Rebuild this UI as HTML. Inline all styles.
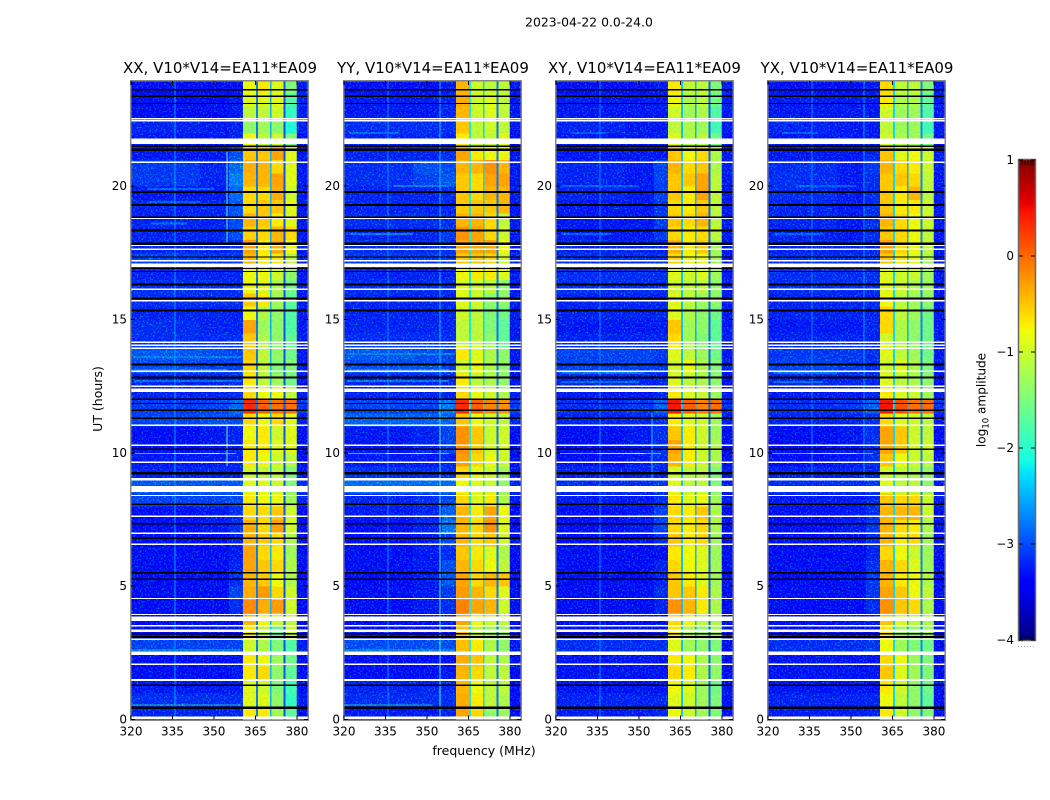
<!DOCTYPE html>
<html lang="en">
<head>
<meta charset="utf-8">
<title>2023-04-22 0.0-24.0</title>
<style>
html,body{margin:0;padding:0;background:#fff;}
#figure{display:block;width:1050px;height:800px;background:#fff;}
text{font-family:"DejaVu Sans","Liberation Sans",sans-serif;fill:#000;}
</style>
</head>
<body>
<svg id="figure" xmlns="http://www.w3.org/2000/svg" width="1050" height="800" viewBox="0 0 1050 800">
  <defs>
    <filter id="speckle" x="0" y="0" width="100%" height="100%" color-interpolation-filters="sRGB">
      <feTurbulence type="fractalNoise" baseFrequency="0.62" numOctaves="1" seed="7"/>
      <feColorMatrix type="matrix" values="0 0 0 0 0  3.2 0 0 0 -1.6  0 3 0 0 -0.4  0 0 0 0 1"/>
    </filter>
    <filter id="speckle-band" x="0" y="0" width="100%" height="100%" color-interpolation-filters="sRGB">
      <feTurbulence type="fractalNoise" baseFrequency="0.5" numOctaves="1" seed="3"/>
      <feColorMatrix type="matrix" values="0 0 0 0 1  4 0 0 0 -1.3  0 0 0 0 0  0 0 0 0 1"/>
    </filter>
  </defs>
  <text x="589" y="26.5" font-size="12.4" text-anchor="middle">2023-04-22 0.0-24.0</text>
  <text x="484" y="755" font-size="12.5" text-anchor="middle">frequency (MHz)</text>
  <text transform="translate(102,399) rotate(-90)" font-size="12.5" text-anchor="middle">UT (hours)</text>
  <text transform="translate(985.5,400) rotate(-90)" font-size="12.1" text-anchor="middle">log<tspan font-size="8.5" dy="3">10</tspan><tspan dy="-3"> amplitude</tspan></text>
  <text x="220" y="73" font-size="15" text-anchor="middle">XX, V10*V14=EA11*EA09</text>
  <text x="433" y="73" font-size="15" text-anchor="middle">YY, V10*V14=EA11*EA09</text>
  <text x="644.5" y="73" font-size="15" text-anchor="middle">XY, V10*V14=EA11*EA09</text>
  <text x="857" y="73" font-size="15" text-anchor="middle">YX, V10*V14=EA11*EA09</text>
  <g id="panels"></g>
  <g id="colorbar"></g>
</svg>
<script>
// ---- axis tick labels ----
const freqTicks = [320, 335, 350, 365, 380];
const hourTicks = [0, 5, 10, 15, 20];
const colorTicks = [1, 0, -1, -2, -3, -4];

// ---- channel edges in MHz: 3 background groups, 4 bands separated by 3 gaps, upper edge ----
const channelEdges = [320, 345, 355.5, 360.5, 365.2, 365.9, 370.3, 370.8, 375.2, 375.9, 380, 384];
const rowStepHours = 0.5;
const bandLevelOffset = -0.12;
const quietLevelOffset = -0.15;

// ---- log10 amplitude, one row per half hour from 0 UT, columns: low, mid, high, band1..band4, edge ----
const xxRows = [
[-3.0,-3.0,-3.0,-.6,-.6,-1.2,-1.6,-3.2],[-2.9,-2.9,-2.9,-.8,-.8,-1.3,-1.9,-3.1],[-3.1,-3.1,-3.1,-.8,-.9,-1.4,-1.8,-3.2],[-3.2,-3.2,-3.1,-.6,-.5,-1.3,-1.6,-3.2],
[-3.2,-3.2,-3.2,-.6,-.7,-1.2,-1.5,-3.2],[-2.7,-2.7,-2.7,-.9,-1.1,-1.4,-1.7,-3.1],[-3.2,-3.2,-3.2,-.6,-1.0,-1.5,-.9,-3.2],[-3.2,-3.2,-3.2,-.3,-.7,-.9,-1.0,-3.2],
[-3.2,-3.2,-2.9,-.05,-.25,-.15,-.9,-3.2],[-3.2,-3.2,-2.7,-.25,-.15,-.5,-.9,-3.2],[-3.2,-3.2,-2.9,-.3,-.4,-.7,-1.1,-3.2],[-3.2,-3.2,-3.0,-.2,-.4,-.5,-1.1,-3.2],
[-3.2,-3.2,-3.1,-.2,-.5,-.6,-1.2,-3.2],[-3.2,-3.2,-3.0,-.3,-.4,-.5,-1.1,-3.2],[-3.2,-3.1,-2.9,-.25,-.5,-.2,-.9,-3.2],[-3.2,-3.1,-2.9,-.5,-.5,-.4,-.9,-3.2],
[-2.7,-2.7,-2.6,-.6,-.7,-.7,-1.2,-3.0],[-2.5,-2.5,-2.5,-.8,-.8,-.9,-1.4,-2.9],[-3.0,-3.0,-3.0,-.9,-1,-1.0,-1.4,-3.1],[-3.1,-3.1,-3.0,-.6,-.7,-.9,-1.0,-3.2],
[-3.2,-3.1,-3.0,-.6,-.6,-.8,-.8,-3.2],[-3.2,-3.1,-3.0,-.7,-.6,-.9,-.8,-3.2],[-2.7,-2.6,-2.6,-.5,-.7,-.5,-.8,-3.0],[-2.8,-2.7,-2.3,.5,.2,.1,.1,-2.8],
[-3.0,-3.0,-2.9,-.5,-.7,-.7,-1.0,-3.1],[-3.0,-3.0,-2.9,-.6,-1.0,-1.2,-1.5,-3.2],[-2.6,-2.7,-2.7,-.5,-1.0,-1.4,-1.4,-3.1],[-2.5,-2.6,-2.7,-.4,-1,-1.3,-1.5,-3.1],
[-2.9,-2.9,-2.9,-.4,-1.1,-1.3,-1.6,-3.1],[-2.9,-3.0,-3.0,-.2,-1.2,-1.3,-1.7,-3.1],[-3.0,-3.0,-3.0,-.7,-1.1,-1.3,-1.7,-3.1],[-2.9,-2.9,-2.9,-.4,-.6,-1.2,-1.6,-3.1],
[-2.9,-2.9,-2.9,-.7,-.8,-1.1,-1.5,-3.1],[-3.0,-3.0,-3.0,-.7,-.7,-.9,-1.3,-3.1],[-2.7,-2.8,-2.8,-.3,-.6,-.6,-1.0,-3.0],[-3.0,-3.0,-2.9,-.2,-.6,-.25,-.7,-3.1],
[-3.0,-3.0,-2.6,-.45,-.5,-.3,-.5,-3.1],[-3.0,-3.0,-2.6,-.3,-.4,-.6,-.8,-3.1],[-3.0,-3.0,-2.5,-.5,-.4,-.4,-.8,-3.1],[-3.1,-3.1,-2.3,-.5,-.5,-.25,-.9,-3.1],
[-2.8,-3.0,-2.1,-.3,-.3,-.2,-.8,-3.1],[-2.8,-3.0,-2.3,-.25,-.3,-.5,-.8,-3.1],[-3.1,-3.1,-2.6,-.4,-.4,-.2,-.8,-3.1],[-3.1,-3.1,-3.0,-.7,-1,-.9,-1.4,-3.2],
[-3.0,-3.1,-3.0,-1.3,-1.2,-1.3,-2.0,-3.1],[-3.2,-3.2,-3.1,-1.0,-1.0,-.9,-1.9,-3.1],[-3.2,-3.2,-3.1,-.8,-.8,-.8,-1.7,-3.0],[-3.3,-3.3,-3.2,-.7,-.6,-.8,-1.4,-3.1]
];
const yyRows = [
[-3.1,-3.1,-3.0,-.2,-.5,-1.3,-1.2,-3.2],[-2.9,-2.9,-2.9,-.25,-.6,-1.0,-1.1,-3.2],[-3.0,-3.0,-3.0,-.3,-.7,-1.0,-1.0,-3.2],[-3.2,-3.2,-3.1,-.3,-.5,-1,-1.0,-3.2],
[-3.2,-3.2,-3.2,-.25,-.4,-1.0,-1.1,-3.2],[-2.6,-2.6,-2.6,-.35,-.6,-1.1,-1.3,-3.1],[-3.2,-3.2,-3.2,-.4,-1.0,-1.2,-1.2,-3.2],[-3.2,-3.2,-3.1,-.2,-.7,-.9,-1.0,-3.2],
[-3.2,-3.1,-2.9,0,-.2,-.3,-.9,-3.2],[-3.2,-3.1,-2.8,-.15,-.3,-.5,-.8,-3.2],[-3.2,-3.1,-2.5,-.2,-.5,-.3,-.4,-3.2],[-3.2,-3.1,-2.6,-.3,-.5,-.7,-1.0,-3.2],
[-3.2,-3.1,-2.9,-.4,-.6,-.8,-1.1,-3.2],[-3.2,-3.1,-2.7,-.3,-.5,-.4,-.9,-3.2],[-3.2,-3.0,-2.2,-.3,-.5,-.1,-.8,-3.2],[-3.1,-3.0,-2.4,-.3,-.6,-.2,-.7,-3.2],
[-3.0,-2.9,-2.7,-.5,-.8,-.6,-1.1,-3.1],[-2.3,-2.3,-2.3,-.7,-.8,-.9,-1.3,-3.0],[-2.9,-2.9,-2.9,-.5,-.8,-.9,-1.2,-3.1],[-3.1,-3.1,-3.0,-.15,-.5,-.7,-.9,-3.2],
[-3.1,-3.0,-2.7,-.1,-.4,-.9,-.9,-3.2],[-3.1,-3.0,-2.7,-.1,-.4,-.9,-.9,-3.2],[-2.4,-2.4,-2.4,-.4,-.7,-.9,-1,-3.0],[-2.7,-2.7,-2.2,.5,.2,0,-.1,-2.8],
[-3.0,-3.0,-3.0,-.5,-.7,-.9,-1.1,-3.1],[-3.0,-3.0,-3.0,-.6,-1,-1.1,-1.3,-3.2],[-2.6,-2.6,-2.7,-.9,-.7,-1.1,-1.3,-3.1],[-2.5,-2.6,-2.7,-.6,-.8,-1.1,-1.3,-3.1],
[-2.9,-2.9,-2.9,-1,-1,-1.3,-1.6,-3.1],[-3.0,-3.0,-3.0,-1.0,-1.0,-1.4,-1.6,-3.1],[-3.0,-3.0,-3.0,-.9,-1.0,-1.4,-1.5,-3.1],[-3.0,-3.0,-3.0,-.8,-.9,-1.3,-1.3,-3.1],
[-2.9,-2.9,-2.9,-.8,-.9,-1,-1.3,-3.1],[-3.0,-3.0,-3.0,-.7,-.6,-.6,-.8,-3.1],[-2.8,-2.8,-2.8,-.4,-.4,-.5,-.9,-3.0],[-2.9,-2.9,-2.9,-.2,-.2,-.2,-.7,-3.1],
[-3.0,-3.0,-2.8,-.1,-.2,-.5,-.9,-3.1],[-2.9,-2.9,-2.9,-.3,-.3,-.5,-1,-3.1],[-3.0,-3.0,-3.0,-.4,-.4,-.4,-.3,-3.1],[-3.0,-3.0,-2.9,-.4,-.5,-.3,-.3,-3.1],
[-2.9,-2.7,-2.5,-.4,-.5,-.2,-.2,-3.1],[-2.9,-2.6,-2.6,-.3,-.3,-.1,-.3,-3.1],[-3.0,-3.0,-2.9,-.2,-.6,-.7,-.7,-3.1],[-3.0,-3.0,-3.0,-.6,-1,-1,-.8,-3.2],
[-2.9,-2.9,-2.9,-.4,-1,-.9,-1,-3.1],[-3.1,-3.1,-3.0,-.3,-.9,-.8,-1.0,-3.1],[-3.1,-3.1,-3.0,-.25,-.9,-.8,-1.0,-3.1],[-3.2,-3.2,-3.1,-.3,-.9,-1.0,-1.0,-3.1]
];
const xyRows = [
[-3.1,-3.1,-3.0,-.7,-.9,-1.2,-1.4,-3.2],[-3.0,-3.0,-3.0,-.8,-.9,-1.2,-1.4,-3.2],[-3.15,-3.15,-3.15,-.7,-.8,-1.2,-1.5,-3.2],[-3.15,-3.15,-3.15,-.5,-.6,-1.1,-1.3,-3.2],
[-3.15,-3.15,-3.15,-.6,-.7,-1.1,-1.3,-3.2],[-2.9,-2.9,-2.9,-.8,-1.2,-1.3,-1.4,-3.2],[-3.2,-3.2,-3.2,-.6,-1.1,-1.3,-1.2,-3.2],[-3.2,-3.2,-3.2,-.5,-.7,-1,-1.1,-3.2],
[-3.2,-3.2,-3.0,-.1,-.3,-.6,-1.1,-3.2],[-3.2,-3.2,-2.9,-.4,-.4,-.6,-1.1,-3.2],[-3.2,-3.2,-3.0,-.4,-.6,-.8,-1.2,-3.2],[-3.2,-3.2,-3.0,-.5,-.7,-.8,-1.2,-3.2],
[-3.2,-3.2,-3.2,-.6,-.7,-.8,-1.2,-3.2],[-3.2,-3.2,-2.9,-.4,-.6,-.5,-1.2,-3.2],[-3.2,-3.1,-2.7,-.5,-.6,-.5,-1.1,-3.2],[-3.2,-3.1,-2.7,-.5,-.6,-.4,-1.1,-3.2],
[-3.1,-3.1,-2.9,-.6,-.8,-.7,-1.2,-3.1],[-2.9,-2.9,-2.8,-.8,-1.0,-1.0,-1.4,-3.1],[-3.0,-3.0,-3.0,-.9,-1.0,-1.0,-1.4,-3.1],[-3.2,-3.1,-2.9,-.3,-.6,-.9,-1.1,-3.2],
[-3.2,-3.1,-2.9,-.2,-.6,-.9,-1.1,-3.2],[-3.2,-3.1,-2.9,-.4,-.6,-.9,-1.2,-3.2],[-3.0,-3.0,-2.9,-.6,-.8,-.9,-1.2,-3.1],[-2.9,-2.8,-2.4,.6,.2,0,.1,-2.9],
[-3.1,-3.1,-3.0,-.6,-.8,-.9,-1.2,-3.1],[-3.0,-3.0,-3.0,-.8,-1.0,-1.1,-1.3,-3.2],[-2.7,-2.7,-2.8,-.9,-.7,-1.1,-1.4,-3.1],[-2.7,-2.7,-2.8,-.8,-1,-1.2,-1.5,-3.1],
[-3.0,-3.0,-3.0,-.5,-1.2,-1.4,-1.6,-3.1],[-3.1,-3.1,-3.1,-.4,-1.2,-1.3,-1.6,-3.1],[-3.0,-3.0,-3.0,-.8,-1.1,-1.3,-1.5,-3.1],[-3.0,-3.0,-3.0,-.8,-1.0,-1.2,-1.3,-3.1],
[-2.9,-2.9,-2.9,-.9,-1,-1.0,-1.3,-3.1],[-2.9,-2.9,-2.9,-.8,-.9,-.8,-1.2,-3.1],[-2.9,-2.9,-2.9,-.5,-.7,-.7,-1.2,-3.1],[-3.0,-3.0,-3.0,-.3,-.6,-.4,-1.2,-3.1],
[-3.1,-3.1,-2.8,-.5,-.6,-.5,-1.0,-3.1],[-3.1,-3.1,-2.8,-.4,-.5,-.3,-1,-3.1],[-3.1,-3.1,-2.8,-.5,-.6,-.4,-1,-3.1],[-3.0,-3.1,-2.7,-.4,-.6,-.2,-1,-3.1],
[-3.0,-3.1,-2.7,-.4,-.4,-.2,-1,-3.1],[-3.0,-3.1,-2.7,-.3,-.5,-.4,-1.1,-3.1],[-3.1,-3.1,-3.1,-.4,-.7,-.5,-1.1,-3.1],[-3.1,-3.1,-3.1,-.8,-1.1,-1.0,-1.5,-3.2],
[-3.0,-3.1,-3.1,-1.0,-1.1,-1.2,-1.8,-3.1],[-3.1,-3.1,-3.1,-.9,-1.2,-1.1,-1.7,-3.1],[-3.1,-3.1,-3.1,-.7,-1.1,-1,-1.5,-3.1],[-3.2,-3.2,-3.1,-.6,-1.0,-1,-1.4,-3.1]
];
const yxRows = [
[-3.1,-3.1,-3.0,-.6,-.9,-1.3,-1.4,-3.2],[-3.0,-3.0,-3.0,-.7,-1,-1.3,-1.6,-3.2],[-3.15,-3.15,-3.15,-.6,-.9,-1.3,-1.5,-3.2],[-3.15,-3.15,-3.15,-.4,-.8,-1.2,-1.4,-3.2],
[-3.15,-3.15,-3.15,-.5,-.7,-1.2,-1.4,-3.2],[-2.9,-2.9,-2.8,-.7,-1.2,-1.4,-1.5,-3.2],[-3.2,-3.2,-3.2,-.6,-1.2,-1.3,-1.2,-3.2],[-3.2,-3.2,-3.1,-.4,-.8,-1,-1.1,-3.2],
[-3.2,-3.2,-2.9,-.1,-.4,-.5,-1.1,-3.2],[-3.2,-3.2,-2.8,-.2,-.4,-.7,-1,-3.2],[-3.2,-3.2,-2.8,-.3,-.6,-.7,-1.1,-3.2],[-3.2,-3.2,-2.9,-.3,-.5,-.8,-1.2,-3.2],
[-3.2,-3.2,-3.0,-.5,-.7,-.9,-1.2,-3.2],[-3.2,-3.2,-2.9,-.3,-.6,-.5,-1.2,-3.2],[-3.2,-3.1,-2.8,-.3,-.5,-.6,-1.1,-3.2],[-3.2,-3.1,-2.9,-.3,-.3,-.3,-.9,-3.2],
[-3.1,-3.1,-3.0,-.4,-.5,-.5,-.9,-3.1],[-2.9,-2.9,-2.8,-.8,-1,-1,-1.3,-3.1],[-3.0,-3.0,-3.0,-.9,-1,-1.1,-1.3,-3.1],[-3.2,-3.1,-2.9,-.4,-.7,-.9,-1.0,-3.2],
[-3.2,-3.1,-2.9,-.2,-.4,-.9,-.9,-3.2],[-3.2,-3.1,-2.9,-.2,-.4,-.9,-1,-3.2],[-3.0,-3.0,-2.9,-.5,-.8,-.9,-1,-3.1],[-2.9,-2.8,-2.4,.6,.3,.1,.1,-2.9],
[-3.1,-3.1,-3.0,-.6,-.8,-.9,-1.2,-3.1],[-3.0,-3.0,-3.0,-.8,-1,-1.1,-1.3,-3.2],[-2.7,-2.8,-2.9,-.9,-.8,-1.1,-1.4,-3.1],[-2.8,-2.8,-2.9,-.8,-1,-1.2,-1.5,-3.1],
[-3.0,-3.0,-3.0,-.9,-1.1,-1.3,-1.5,-3.1],[-3.1,-3.1,-3.0,-.5,-1.1,-1.3,-1.5,-3.1],[-3.0,-3.0,-3.0,-.5,-1,-1.2,-1.5,-3.1],[-3.0,-3.0,-3.0,-.7,-1,-1.2,-1.3,-3.1],
[-2.9,-2.9,-2.9,-.8,-.9,-1.1,-1.2,-3.1],[-2.9,-2.9,-2.9,-.8,-.9,-.9,-1.2,-3.1],[-2.9,-2.9,-2.9,-.4,-.6,-.8,-1.1,-3.1],[-3.0,-3.0,-3.0,-.2,-.5,-.7,-1,-3.1],
[-3.0,-3.1,-2.9,-.4,-.5,-.7,-1,-3.1],[-3.0,-3.1,-2.9,-.3,-.5,-.7,-.9,-3.1],[-3.0,-3.1,-2.9,-.4,-.6,-.6,-.9,-3.1],[-2.9,-3.1,-2.9,-.4,-.6,-.3,-1,-3.1],
[-2.9,-3.1,-2.9,-.4,-.4,-.5,-1,-3.1],[-2.9,-3.1,-2.8,-.3,-.5,-.6,-.9,-3.1],[-3.1,-3.1,-3.0,-.4,-.8,-.7,-.9,-3.1],[-3.1,-3.1,-3.1,-.9,-1.1,-1.2,-1.5,-3.2],
[-3.0,-3.1,-3.1,-1,-1.2,-1.2,-1.8,-3.1],[-3.1,-3.1,-3.1,-.9,-1.2,-1.2,-1.7,-3.1],[-3.1,-3.1,-3.1,-.6,-1.1,-1.1,-1.6,-3.1],[-3.2,-3.2,-3.1,-.5,-1,-1,-1.4,-3.1]
];

// ---- level of the three gaps between bands, per polarisation ----
const xxGaps = [-2.8, -2.5, -3.0];
const yyGaps = [-2.2, -2.3, -2.8];
const xyGaps = [-2.4, -2.5, -2.9];
const yxGaps = [-2.3, -2.5, -2.7];

// ---- narrow-band interference: [MHz, start hour, end hour, level] ----
const xxLines = [[336,0,24,-2.6],[354.7,9.5,11,-1.7],[354.7,17.8,21.3,-1.8]];
const yyLines = [[336,0,24,-2.7],[354.7,0,12,-2.0],[354.7,12,24,-2.4]];
const xyLines = [[336,0,24,-2.7],[354.7,9,11.5,-2.3]];
const yxLines = [[336,9,24,-2.7],[354.7,9,24,-2.6]];

// ---- faint time streaks: [hour, start MHz, end MHz, level] ----
const xxStreaks = [[19.9,326,350,-2.3],[19.4,326,345,-2.4],[18.6,327,340,-2.2],[13.6,321,360,-2.1],[13.1,321,355,-2.0],[12.7,321,360,-2.2],[2.6,320,360,-2.0],[0.55,320,360,-1.9]];
const yyStreaks = [[20.0,338,358,-2.1],[19.3,335,358,-2.3],[18.2,322,345,-2.0],[22.0,322,340,-2.3],[13.7,321,360,-2.0],[13.1,321,358,-1.9],[12.7,321,358,-2.1],[2.6,320,360,-1.9],[0.55,320,352,-1.9]];
const xyStreaks = [[20.0,322,350,-2.4],[19.3,322,350,-2.3],[18.2,322,340,-2.3],[13.0,322,352,-2.1],[12.65,322,350,-2.2],[22.0,325,338,-2.4]];
const yxStreaks = [[20.0,330,352,-2.4],[19.3,322,352,-2.4],[18.2,322,340,-2.4],[13.0,322,345,-2.1],[12.65,322,340,-2.2],[22.0,325,338,-2.4]];

// ---- the bright bad integration near 10 UT ----
const spikeHour = 9.98;
const spikeEdges = [321.5, 335, 352, 358];
const spikeLevels = [-0.1, -1.0, -0.2];

// ---- flagged integrations shared by all panels: [hour, thickness in hours] ----
const whiteFlags = [[22.52,.05],[22.45,.05],[21.68,.2],[20.89,.05],[18.79,.04],[17.78,.05],[17.63,.05],[17.2,.05],[17.03,.14],[16.13,.05],[15.7,.05],[14.14,.05],[14.03,.05],[13.92,.05],[13.06,.05],[12.49,.05],[12.34,.125],[11.03,.05],[10.28,.05],[9.64,.05],[9.01,.08],[8.73,.05],[8.61,.16],[8.4,.05],[7.62,.05],[6.98,.05],[6.57,.05],[4.54,.05],[3.94,.05],[3.78,.16],[3.52,.05],[3.33,.09],[3.01,.05],[2.48,.125],[2.07,.05],[1.49,.075],[.08,.05],[.03,.04]];
const blackFlags = [[23.61,.05],[23.37,.05],[23.1,.05],[21.49,.05],[21.36,.09],[19.78,.08],[19.29,.08],[18.83,.05],[18.33,.08],[17.84,.08],[17.34,.05],[16.91,.05],[16.8,.05],[16.31,.08],[15.79,.08],[15.34,.08],[13.31,.08],[12.82,.08],[12.01,.07],[11.85,.05],[11.6,.05],[11.29,.05],[10.13,.05],[9.25,.05],[9.21,.05],[8.07,.05],[7.34,.05],[6.79,.05],[5.5,.05],[5.26,.05],[3.22,.05],[3.1,.08],[1.28,.05],[.44,.09]];

// ---- axis functions ----
const SVGNS = 'http://www.w3.org/2000/svg';
const panelLefts = [131, 344, 556, 768];
const panelKeys = ['xx', 'yy', 'xy', 'yx'];
const panelRows = [xxRows, yyRows, xyRows, yxRows];
const panelGaps = [xxGaps, yyGaps, xyGaps, yxGaps];
const panelLines = [xxLines, yyLines, xyLines, yxLines];
const panelStreaks = [xxStreaks, yyStreaks, xyStreaks, yxStreaks];
const pxPerMHz = 2.765;
const pxPerHour = 26.67;
const plotTop = 81;
const plotBottom = 719.5;
function xScale(left, f) { return left + (f - 320) * pxPerMHz; }
function yScale(h) { return plotBottom - h * pxPerHour; }
function jet(v) {
  const t = Math.max(0, Math.min(1, (v + 4) / 5));
  function lerp(pts) {
    for (let i = 1; i < pts.length; i++) {
      if (t <= pts[i][0]) {
        const a = pts[i - 1], b = pts[i];
        return a[1] + (b[1] - a[1]) * (t - a[0]) / (b[0] - a[0]);
      }
    }
    return pts[pts.length - 1][1];
  }
  const r = lerp([[0, 0], [.35, 0], [.66, 1], [.89, 1], [1, .5]]);
  const g = lerp([[0, 0], [.125, 0], [.375, 1], [.64, 1], [.91, 0], [1, 0]]);
  const b = lerp([[0, .5], [.11, 1], [.34, 1], [.65, 0], [1, 0]]);
  return 'rgb(' + Math.round(r * 255) + ',' + Math.round(g * 255) + ',' + Math.round(b * 255) + ')';
}
function rect(parent, x, y, w, h, fill) {
  const el = document.createElementNS(SVGNS, 'rect');
  el.setAttribute('x', x);
  el.setAttribute('y', y);
  el.setAttribute('width', w);
  el.setAttribute('height', h);
  el.setAttribute('fill', fill);
  parent.appendChild(el);
  return el;
}
function line(parent, x1, y1, x2, y2, color, width) {
  const el = document.createElementNS(SVGNS, 'line');
  el.setAttribute('x1', x1);
  el.setAttribute('y1', y1);
  el.setAttribute('x2', x2);
  el.setAttribute('y2', y2);
  el.setAttribute('stroke', color);
  el.setAttribute('stroke-width', width);
  parent.appendChild(el);
  return el;
}
function label(parent, x, y, str, anchor) {
  const el = document.createElementNS(SVGNS, 'text');
  el.setAttribute('x', x);
  el.setAttribute('y', y);
  el.setAttribute('font-size', '12');
  el.setAttribute('text-anchor', anchor);
  el.textContent = str;
  parent.appendChild(el);
  return el;
}

// ---- draw panels ----
const panelsRoot = document.getElementById('panels');
panelKeys.forEach(function (key, p) {
  const left = panelLefts[p];
  const right = xScale(left, 384);
  const rows = panelRows[p];
  const gaps = panelGaps[p];
  const g = document.createElementNS(SVGNS, 'g');
  
  
  g.setAttribute('shape-rendering', 'crispEdges');
  panelsRoot.appendChild(g);

  const clip = document.createElementNS(SVGNS, 'clipPath');
  clip.setAttribute('id', 'clip-' + key);
  rect(clip, left, plotTop, right - left, plotBottom - plotTop, '#000');
  g.appendChild(clip);

  const heat = document.createElementNS(SVGNS, 'g');
  heat.setAttribute('clip-path', 'url(#clip-' + key + ')');
  
  
  g.appendChild(heat);

  // row cells
  rows.forEach(function (row, k) {
    const y0 = yScale((k + 1) * rowStepHours);
    const y1 = yScale(k * rowStepHours);
    const o = bandLevelOffset;
    const q = quietLevelOffset;
    const levels = [row[0] + q, row[1] + q, row[2] + q, row[3] + o, gaps[0], row[4] + o, gaps[1], row[5] + o, gaps[2], row[6] + o, row[7] + q];
    levels.forEach(function (v, c) {
      const x0 = xScale(left, channelEdges[c]);
      const x1 = xScale(left, channelEdges[c + 1]);
      const cell = rect(heat, x0, y0, x1 - x0 + .5, y1 - y0 + .5, jet(v));
      
      
    });
  });

  // streaks
  panelStreaks[p].forEach(function (s) {
    const x0 = xScale(left, s[1]);
    const x1 = xScale(left, s[2]);
    const st = rect(heat, x0, yScale(s[0]) - 1, x1 - x0, 2, jet(s[3]));
    st.setAttribute('opacity', '0.75');
    
    
  });

  // speckle texture over the quiet channels and, more weakly, over the bands
  const quiet = rect(heat, left, plotTop, xScale(left, 360.5) - left, plotBottom - plotTop, '#000');
  quiet.setAttribute('filter', 'url(#speckle)');
  quiet.setAttribute('opacity', '0.5');
  
  
  const upper = rect(heat, xScale(left, 380), plotTop, right - xScale(left, 380), plotBottom - plotTop, '#000');
  upper.setAttribute('filter', 'url(#speckle)');
  upper.setAttribute('opacity', '0.5');
  
  
  const bandTexture = rect(heat, xScale(left, 360.5), plotTop, xScale(left, 380) - xScale(left, 360.5), plotBottom - plotTop, '#000');
  bandTexture.setAttribute('filter', 'url(#speckle-band)');
  bandTexture.setAttribute('opacity', '0.06');
  
  

  // interference lines
  panelLines[p].forEach(function (l) {
    const x = xScale(left, l[0]);
    const rfi = line(heat, x, yScale(l[2]), x, yScale(l[1]), jet(l[3]), 1);
    
    
  });

  // bad integration
  spikeLevels.forEach(function (v, i) {
    const sp = line(heat, xScale(left, spikeEdges[i]), yScale(spikeHour), xScale(left, spikeEdges[i + 1]), yScale(spikeHour), jet(v), 1);
    
    
  });

  // flags
  whiteFlags.forEach(function (f) {
    const wf = rect(heat, left, yScale(f[0]) - f[1] * pxPerHour / 2, right - left, f[1] * pxPerHour, '#fff');
    
    
  });
  blackFlags.forEach(function (f) {
    const bf = rect(heat, left, yScale(f[0]) - f[1] * pxPerHour / 2, right - left, f[1] * pxPerHour, '#000');
    
    
  });

  // frame
  const frame = rect(g, left - .5, plotTop - .5, right - left + 1, plotBottom - plotTop + 1, 'none');
  frame.setAttribute('stroke', '#888');
  frame.setAttribute('stroke-width', '1.5');
  
  

  // ticks and labels
  const textGroup = document.createElementNS(SVGNS, 'g');
  textGroup.setAttribute('shape-rendering', 'auto');
  
  
  g.appendChild(textGroup);
  freqTicks.forEach(function (f) {
    const x = xScale(left, f);
    const t1 = line(g, x, plotBottom, x, plotBottom - 4, '#000', 1);
    
    
    const t2 = line(g, x, plotTop, x, plotTop + 4, '#000', 1);
    
    
    const tl = label(textGroup, x, 735.5, String(f), 'middle');
    
    
  });
  hourTicks.forEach(function (h) {
    const y = yScale(h);
    const t1 = line(g, left, y, left + 4, y, '#000', 1);
    
    
    const t2 = line(g, right, y, right - 4, y, '#000', 1);
    
    
    const tl = label(textGroup, left - 4, y + 4, String(h), 'end');
    
    
  });
});

// ---- colour bar ----
const cbRoot = document.getElementById('colorbar');
const cbLeft = 1019, cbRight = 1035, cbTop = 160, cbBottom = 640;
function cbY(v) { return cbBottom - (v + 4) / 5 * (cbBottom - cbTop); }
const cbGrad = document.createElementNS(SVGNS, 'g');
cbGrad.setAttribute('shape-rendering', 'crispEdges');


cbRoot.appendChild(cbGrad);
for (let py = cbTop; py < cbBottom; py += 2) {
  const lv = 1 - (py - cbTop + 1) / (cbBottom - cbTop) * 5;
  rect(cbGrad, cbLeft, py, cbRight - cbLeft, 2.5, jet(lv));
}
const cbFrame = rect(cbRoot, cbLeft - .5, cbTop - .5, cbRight - cbLeft + 1, cbBottom - cbTop + 1, 'none');
cbFrame.setAttribute('stroke', '#666');
cbFrame.setAttribute('stroke-width', '1.5');


colorTicks.forEach(function (v) {
  const y = cbY(v);
  const t1 = line(cbRoot, cbLeft, y, cbLeft + 4, y, '#000', 1);
  
  
  const t2 = line(cbRoot, cbRight, y, cbRight - 4, y, '#000', 1);
  
  
  const tl = label(cbRoot, 1014, y + 4, v < 0 ? '\u2212' + Math.abs(v) : String(v), 'end');
  
  
});
[1022, 1025, 1028, 1031, 1033].forEach(function (x) {
  const a = line(cbRoot, x, cbTop, x, cbTop + 5, '#000', .7);
  
  
  const b = line(cbRoot, x, cbBottom, x, cbBottom - 5, '#000', .7);
  
  
});
[1018, 1021, 1024, 1027, 1030, 1033].forEach(function (x) {
  const d = rect(cbRoot, x, 646, 1, 1, '#aaa');
  
  
});
</script>
</body>
</html>
